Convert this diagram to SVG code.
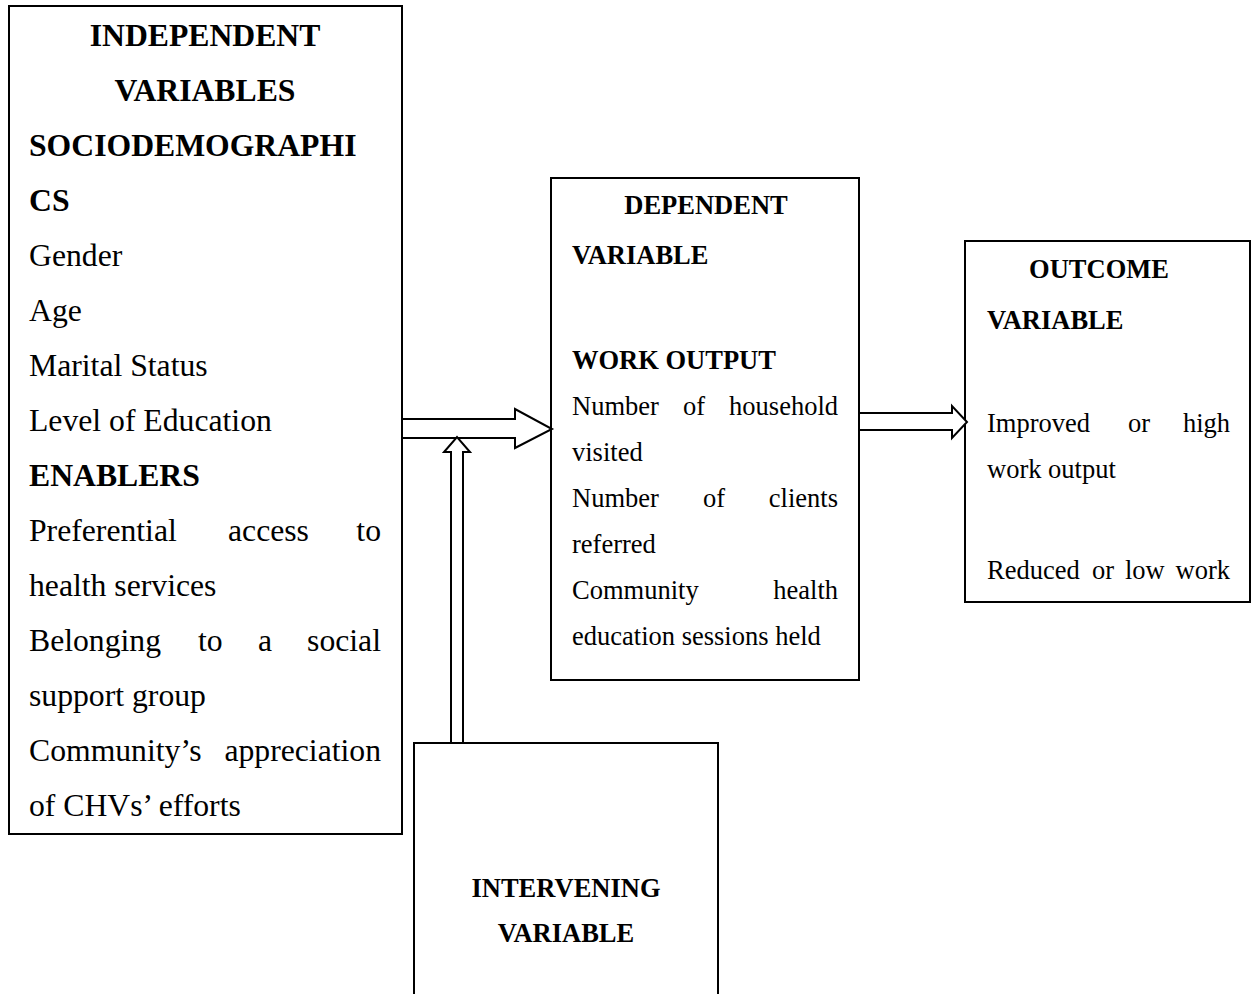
<svg xmlns="http://www.w3.org/2000/svg" width="1251" height="994" viewBox="0 0 1251 994">
<style>
.box{fill:#fff;stroke:#000;stroke-width:2}
.arr{fill:#fff;stroke:#000;stroke-width:2;stroke-linejoin:miter}
text{font-family:"Liberation Serif","Times New Roman",serif;fill:#000}
.L{font-size:31.7px}
.S{font-size:26.5px}
.b{font-weight:bold}
.e{text-anchor:end}
.m{text-anchor:middle}
</style>
<rect x="0" y="0" width="1251" height="994" fill="#fff"/>
<g id="independent">
<rect class="box" x="9" y="6" width="393" height="828"/>
<text class="L b m" x="205" y="45.5">INDEPENDENT</text>
<text class="L b m" x="205" y="100.5">VARIABLES</text>
<text class="L b" x="29" y="155.5">SOCIODEMOGRAPHI</text>
<text class="L b" x="29" y="210.5">CS</text>
<text class="L" x="29" y="265.5">Gender</text>
<text class="L" x="29" y="320.5">Age</text>
<text class="L" x="29" y="375.5">Marital Status</text>
<text class="L" x="29" y="430.5">Level of Education</text>
<text class="L b" x="29" y="485.5">ENABLERS</text>
<text class="L" x="29" y="540.5">Preferential</text>
<text class="L" x="228" y="540.5">access</text>
<text class="L e" x="381" y="540.5">to</text>
<text class="L" x="29" y="595.5">health services</text>
<text class="L" x="29" y="650.5">Belonging</text>
<text class="L" x="198" y="650.5">to</text>
<text class="L" x="258" y="650.5">a</text>
<text class="L e" x="381" y="650.5">social</text>
<text class="L" x="29" y="705.5">support group</text>
<text class="L" x="29" y="760.5">Community’s</text>
<text class="L e" x="381" y="760.5">appreciation</text>
<text class="L" x="29" y="815.5">of CHVs’ efforts</text>
</g>
<g id="dependent">
<rect class="box" x="551" y="178" width="308" height="502"/>
<text class="S b m" x="706" y="214">DEPENDENT</text>
<text class="S b" x="572" y="264">VARIABLE</text>
<text class="S b" x="572" y="369">WORK OUTPUT</text>
<text class="S" x="572" y="415">Number</text>
<text class="S" x="683" y="415">of</text>
<text class="S e" x="838" y="415">household</text>
<text class="S" x="572" y="461">visited</text>
<text class="S" x="572" y="507">Number</text>
<text class="S" x="703" y="507">of</text>
<text class="S e" x="838" y="507">clients</text>
<text class="S" x="572" y="553">referred</text>
<text class="S" x="572" y="599">Community</text>
<text class="S e" x="838" y="599">health</text>
<text class="S" x="572" y="645">education sessions held</text>
</g>
<g id="outcome">
<rect class="box" x="965" y="241" width="285" height="361"/>
<text class="S b m" x="1099" y="278">OUTCOME</text>
<text class="S b" x="987" y="329">VARIABLE</text>
<text class="S" x="987" y="432">Improved</text>
<text class="S" x="1128" y="432">or</text>
<text class="S e" x="1230" y="432">high</text>
<text class="S" x="987" y="478">work output</text>
<text class="S" x="987" y="579">Reduced</text>
<text class="S" x="1092" y="579">or</text>
<text class="S" x="1125" y="579">low</text>
<text class="S e" x="1230" y="579">work</text>
</g>
<g id="intervening">
<rect class="box" x="414" y="743" width="304" height="280"/>
<text class="S b m" x="566" y="897">INTERVENING</text>
<text class="S b m" x="566" y="942">VARIABLE</text>
</g>
<g id="connectors">
<polygon class="arr" points="402,419 515,419 515,409 552,429 515,448 515,438 402,438"/>
<polygon class="arr" points="451,743 451,452 444,452 457,437 470,452 463,452 463,743"/>
<polygon class="arr" points="859,413 952,413 952,406 967,422 952,438 952,430 859,430"/>
</g>
</svg>
